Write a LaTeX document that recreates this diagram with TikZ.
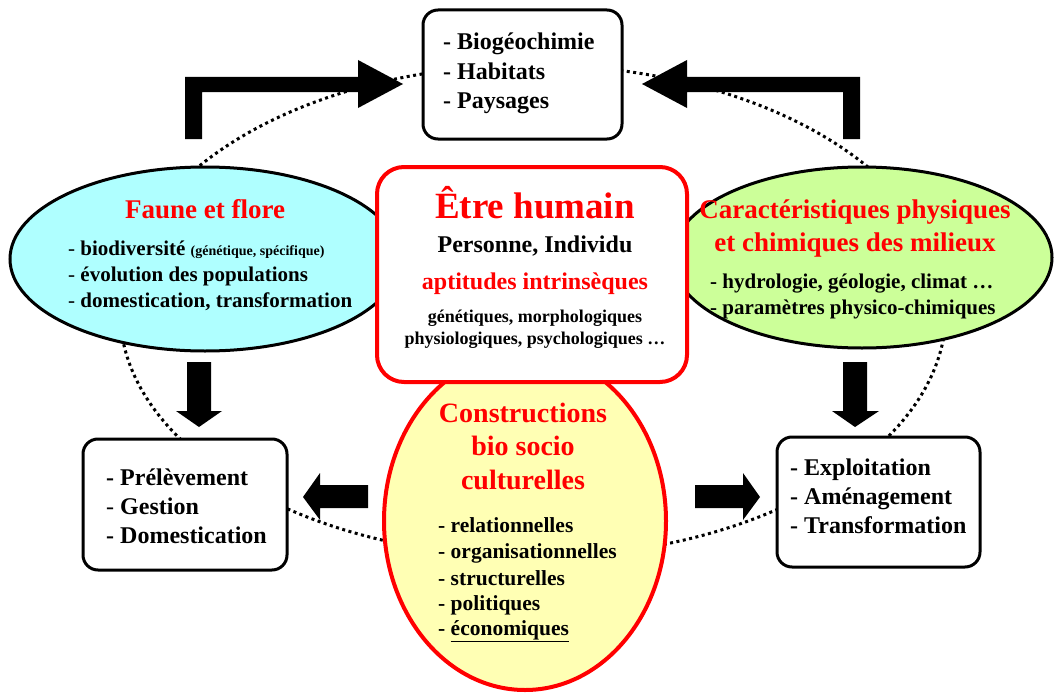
\documentclass[tikz,border=0pt]{standalone}
\usepackage{fontspec}
\setmainfont{Liberation Serif}
\usetikzlibrary{shapes.geometric}
\definecolor{cyanfill}{RGB}{175,255,255}
\definecolor{greenfill}{RGB}{204,255,153}
\definecolor{yellowfill}{RGB}{255,255,180}
\definecolor{titlered}{RGB}{255,0,0}
\tikzset{
  boxst/.style={draw, line width=3pt, rounded corners=15pt, fill=white, inner sep=0pt},
  redbox/.style={draw=titlered, line width=4pt, rounded corners=27pt, fill=white, inner sep=0pt},
  ell/.style={ellipse, draw, line width=3pt, inner sep=0pt},
  orbit/.style={ellipse, draw, line width=3pt, dash pattern=on 3pt off 3.5pt, inner sep=0pt},
  blk/.style={fill=black, draw=none},
  lbl/.style={anchor=base west, inner sep=0pt, font=\bfseries\fontsize{24}{29}\selectfont},
  item/.style={anchor=base west, inner sep=0pt, font=\bfseries\fontsize{21}{26}\selectfont},
  yitem/.style={anchor=base west, inner sep=0pt, font=\bfseries\fontsize{21.5}{26}\selectfont},
  ttl/.style={anchor=base, inner sep=0pt, text=titlered, font=\bfseries\fontsize{27}{32}\selectfont},
  ctr/.style={anchor=base, inner sep=0pt, font=\bfseries\fontsize{24}{29}\selectfont},
  small/.style={anchor=base, inner sep=0pt, font=\bfseries\fontsize{18}{22}\selectfont}
}
\begin{document}
\begin{tikzpicture}[x=1pt,y=-1pt]
\useasboundingbox (0,0) rectangle (1060,693);
% dotted cycle
\node[orbit, minimum width=826pt, minimum height=492pt] (cycle) at (533,311) {};
% top box
\node[boxst, minimum width=199pt, minimum height=129pt] (top) at (522.5,74.5) {};
% ellipses
\node[ell, fill=cyanfill, minimum width=390pt, minimum height=184pt] (faune) at (205,259) {};
\node[ell, fill=greenfill, minimum width=380pt, minimum height=181pt] (milieux) at (862,257.5) {};
\node[ell, draw=titlered, line width=4pt, fill=yellowfill, minimum width=282pt, minimum height=338pt] (constr) at (525,521) {};
% central box
\node[redbox, minimum width=310pt, minimum height=215pt] (humain) at (532,274.5) {};
% bottom boxes
\node[boxst, minimum width=204pt, minimum height=131pt] (prel) at (185,504.5) {};
\node[boxst, minimum width=203pt, minimum height=130pt] (expl) at (878.5,502) {};
% block arrows
\fill[blk] (185,139) -- (185,77) -- (358,77) -- (358,60) -- (403,84) -- (358,108) -- (358,92) -- (202,92) -- (202,139) -- cycle;
\fill[blk] (860,139) -- (860,77) -- (687,77) -- (687,60) -- (642,84) -- (687,108) -- (687,92) -- (843,92) -- (843,139) -- cycle;
\fill[blk] (187,362) -- (211,362) -- (211,411) -- (222,411) -- (199,427) -- (176,411) -- (187,411) -- cycle;
\fill[blk] (843,362) -- (867,362) -- (867,411) -- (879,411) -- (855,427) -- (832,411) -- (843,411) -- cycle;
\fill[blk] (368,485) -- (320,485) -- (320,473) -- (303,497) -- (320,520) -- (320,508) -- (368,508) -- cycle;
\fill[blk] (695,485) -- (743,485) -- (743,473) -- (760,497) -- (743,520) -- (743,508) -- (695,508) -- cycle;
% top box text
\node[lbl] (top1) at (443,50) {- Biogéochimie};
\node[lbl] (top2) at (443,79) {- Habitats};
\node[lbl] (top3) at (443,108) {- Paysages};
% faune text
\node[ttl] (fauneT) at (205,218) {Faune et flore};
\node[item] (f1) at (68,255) {{\mdseries -} biodiversité {\fontsize{14}{16}\selectfont (génétique, spécifique)}};
\node[item] (f2) at (68,281) {{\mdseries -} évolution des populations};
\node[item] (f3) at (68,307) {{\mdseries -} domestication, transformation};
% humain text
\node[ttl, font=\bfseries\fontsize{37}{42}\selectfont] (humT) at (535,218) {Être humain};
\node[ctr] (h1) at (535,252) {Personne, Individu};
\node[ctr, text=titlered] (h2) at (535,289) {aptitudes intrinsèques};
\node[small] (h3) at (535,322) {génétiques, morphologiques};
\node[small] (h4) at (535,344) {physiologiques, psychologiques …};
% milieux text
\node[ttl] (milT1) at (855,218) {Caractéristiques physiques};
\node[ttl] (milT2) at (855,251) {et chimiques des milieux};
\node[item] (m1) at (710,288) {- hydrologie, géologie, climat …};
\node[item] (m2) at (710,314) {- paramètres physico-chimiques};
% constructions text
\node[ttl, font=\bfseries\fontsize{28}{33}\selectfont] (cT1) at (523,422) {Constructions};
\node[ttl, font=\bfseries\fontsize{28}{33}\selectfont] (cT2) at (523,455) {bio socio};
\node[ttl, font=\bfseries\fontsize{28}{33}\selectfont] (cT3) at (523,489) {culturelles};
\node[yitem] (c1) at (438,532) {- relationnelles};
\node[yitem] (c2) at (438,558) {- organisationnelles};
\node[yitem] (c3) at (438,585) {- structurelles};
\node[yitem] (c4) at (438,610) {- politiques};
\node[yitem] (c5) at (438,635) {- \underline{économiques}};
% left box text
\node[lbl] (p1) at (106,485) {- Prélèvement};
\node[lbl] (p2) at (106,514) {{\mdseries -} Gestion};
\node[lbl] (p3) at (106,543) {- Domestication};
% right box text
\node[lbl] (e1) at (790,475) {- Exploitation};
\node[lbl] (e2) at (790,504) {- Aménagement};
\node[lbl] (e3) at (790,533) {- Transformation};
\end{tikzpicture}
\end{document}
